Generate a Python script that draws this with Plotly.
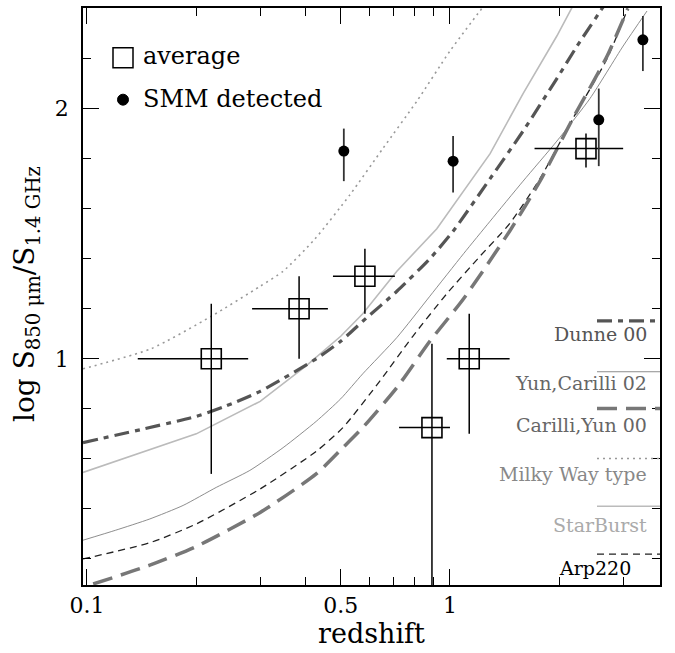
import plotly.graph_objects as go
import numpy as np

# ---------------- data ----------------
# averages (open squares)
avg_z = [0.22, 0.384, 0.583, 0.892, 1.13, 2.37]
avg_y = [1.00, 1.20, 1.33, 0.725, 1.00, 1.84]
avg_zlo = [0.138, 0.285, 0.476, 0.724, 0.98, 1.71]
avg_zhi = [0.278, 0.461, 0.705, 1.0, 1.46, 3.0]
avg_ylo = [0.54, 1.00, 1.18, -0.5, 0.70, 1.765]
avg_yhi = [1.22, 1.33, 1.44, 1.06, 1.18, 1.90]

# SMM detected (filled circles)
smm_z = [0.51, 1.02, 2.57, 3.40]
smm_y = [1.83, 1.79, 1.955, 2.275]
smm_ylo = [1.71, 1.665, 1.77, 2.15]
smm_yhi = [1.92, 1.89, 2.08, 2.37]

# model tracks
dunne_z = [0.0975, 0.2, 0.24, 0.3, 0.428, 0.5, 0.575, 0.714, 0.88, 1.02, 1.29, 1.59, 1.97, 2.24, 2.71]
dunne_y = [0.665, 0.77, 0.81, 0.87, 1.00, 1.07, 1.15, 1.27, 1.40, 1.51, 1.72, 1.91, 2.12, 2.25, 2.43]

yun_z = [0.0975, 0.12, 0.149, 0.184, 0.227, 0.281, 0.347, 0.428, 0.5, 0.575, 0.714, 0.88,
         1.09, 1.29, 1.59, 1.97, 2.43, 3.0, 3.49]
yun_y = [0.275, 0.315, 0.36, 0.414, 0.486, 0.554, 0.645, 0.75, 0.84, 0.94, 1.085, 1.25,
         1.42, 1.55, 1.71, 1.87, 2.04, 2.25, 2.39]

carilli_z = [0.104, 0.149, 0.2, 0.3, 0.428, 0.507, 0.575, 0.714, 0.88, 1.09, 1.46, 1.77, 2.18, 2.71, 3.09]
carilli_y = [0.10, 0.175, 0.25, 0.386, 0.54, 0.645, 0.725, 0.885, 1.07, 1.24, 1.51, 1.71, 1.96, 2.21, 2.40]

milky_z = [0.0975, 0.15, 0.22, 0.3, 0.347, 0.424, 0.531, 0.653, 0.811, 1.0, 1.3]
milky_y = [0.96, 1.04, 1.17, 1.29, 1.35, 1.478, 1.657, 1.84, 2.03, 2.23, 2.45]

star_z = [0.0975, 0.2, 0.3, 0.4, 0.5, 0.575, 0.714, 0.92, 1.29, 1.59, 1.97, 2.18]
star_y = [0.546, 0.70, 0.83, 0.97, 1.09, 1.18, 1.35, 1.52, 1.82, 2.06, 2.29, 2.41]

arp_z = [0.0975, 0.149, 0.2, 0.3, 0.428, 0.507, 0.64, 0.79, 0.98, 1.21, 1.46, 1.77, 2.18, 2.71, 3.09]
arp_y = [0.20, 0.265, 0.34, 0.48, 0.63, 0.725, 0.91, 1.09, 1.26, 1.41, 1.54, 1.72, 1.96, 2.20, 2.40]

x_ticks = [0.1, 0.5, 1]
x_ticklabels = ["0.1", "0.5", "1"]
x_minor = [0.2, 0.3, 0.4, 0.6, 0.7, 0.8, 0.9, 2, 3]
y_ticks = [1, 2]
y_ticklabels = ["1", "2"]
y_minor = [0.2, 0.4, 0.6, 0.8, 1.2, 1.4, 1.6, 1.8, 2.2]

FONT = "DejaVu Serif"

fig = go.Figure()

def track(z, y, color, width, dash, shape="spline"):
    line = dict(color=color, width=width, dash=dash, shape=shape)
    if shape == "spline":
        line["smoothing"] = 0.6
    fig.add_trace(go.Scatter(x=z, y=y, mode="lines", line=line, showlegend=False, hoverinfo="skip"))

track(milky_z, milky_y, "#999999", 1.6, "2px,4px")
track(star_z, star_y, "#bbbbbb", 1.6, "solid", "linear")
track(yun_z, yun_y, "#808080", 0.9, "solid")
track(arp_z, arp_y, "#222222", 1.3, "7px,5px")
track(carilli_z, carilli_y, "#777777", 3.5, "20px,9px")
track(dunne_z, dunne_y, "#555555", 3.2, "15px,6px,5px,6px")

a_z = np.array(avg_z); a_y = np.array(avg_y)
fig.add_trace(go.Scatter(
    x=avg_z, y=avg_y, mode="markers",
    marker=dict(symbol="square-open", size=20, color="black", line=dict(width=1.6, color="black")),
    error_x=dict(type="data", symmetric=False, array=list(np.array(avg_zhi) - a_z),
                 arrayminus=list(a_z - np.array(avg_zlo)), width=0, thickness=1.5, color="black"),
    error_y=dict(type="data", symmetric=False, array=list(np.array(avg_yhi) - a_y),
                 arrayminus=list(a_y - np.array(avg_ylo)), width=0, thickness=1.5, color="black"),
    showlegend=False, hoverinfo="skip"))

s_y = np.array(smm_y)
fig.add_trace(go.Scatter(
    x=smm_z, y=smm_y, mode="markers",
    marker=dict(symbol="circle", size=11, color="black"),
    error_y=dict(type="data", symmetric=False, array=list(np.array(smm_yhi) - s_y),
                 arrayminus=list(s_y - np.array(smm_ylo)), width=0, thickness=1.8, color="#333333"),
    showlegend=False, hoverinfo="skip"))

# ---------- layout ----------
L, R, T, B = 83, 15, 6, 68
W, H = 675, 653
pw, ph = W - L - R, H - T - B

def px(xp):
    return (xp - L) / pw

def py(yp):
    return (H - B - yp) / ph

shapes = []
annotations = []

# top-left legend
shapes.append(dict(type="rect", xref="paper", yref="paper", x0=px(113), x1=px(133), y0=py(66), y1=py(46),
                   line=dict(color="black", width=1.5)))
shapes.append(dict(type="circle", xref="paper", yref="paper", x0=px(117.5), x1=px(128.5), y0=py(103.5),
                   y1=py(92.5), fillcolor="black", line=dict(color="black", width=1)))
annotations.append(dict(xref="paper", yref="paper", x=px(141), y=py(54), text="average", showarrow=False,
                        xanchor="left", yanchor="middle", font=dict(family=FONT, size=24, color="black")))
annotations.append(dict(xref="paper", yref="paper", x=px(141), y=py(97), text="SMM detected", showarrow=False,
                        xanchor="left", yanchor="middle", font=dict(family=FONT, size=24, color="black")))

# right legend
leg = [
    ("Dunne 00", 320, 333, "#555555", 3.2, "15px,6px,5px,6px", "#555555"),
    ("Yun,Carilli 02", 371, 382, "#808080", 0.9, "solid", "#666666"),
    ("Carilli,Yun 00", 408, 424, "#777777", 3.5, "20px,9px", "#666666"),
    ("Milky Way type", 458, 474, "#999999", 1.6, "2px,4px", "#888888"),
    ("StarBurst", 506, 525, "#bbbbbb", 1.6, "solid", "#aaaaaa"),
    ("Arp220", 554, 568, "#222222", 1.3, "7px,5px", "#000000"),
]
for name, ly, ty, col, w, dash, tcol in leg:
    shapes.append(dict(type="line", xref="paper", yref="paper", x0=px(597), x1=px(660), y0=py(ly), y1=py(ly),
                       line=dict(color=col, width=w, dash=dash)))
    xr = 633 if name == "Arp220" else 649
    annotations.append(dict(xref="paper", yref="paper", x=px(xr), y=py(ty), text=name, showarrow=False,
                            xanchor="right", yanchor="middle", font=dict(family=FONT, size=19, color=tcol)))

# y-axis title as annotation for precise placement
annotations.append(dict(xref="paper", yref="paper", x=px(26), y=py(293), textangle=-90,
                        text="log S<sub>850 μm</sub>/S<sub>1.4 GHz</sub>", showarrow=False,
                        xanchor="center", yanchor="middle", font=dict(family=FONT, size=28, color="black")))

axis_common = dict(showline=True, linecolor="black", linewidth=1.5, mirror="ticks", ticks="inside",
                   tickcolor="black", tickwidth=1.2, showgrid=False, zeroline=False)

fig.update_layout(
    width=W, height=H,
    margin=dict(l=L, r=R, t=T, b=B),
    paper_bgcolor="white", plot_bgcolor="white",
    shapes=shapes, annotations=annotations,
    font=dict(family=FONT, color="black"),
    xaxis=dict(type="log", range=[np.log10(0.0975), np.log10(3.79)],
               tickvals=x_ticks, ticktext=x_ticklabels, ticklen=16,
               tickfont=dict(family=FONT, size=22),
               minor=dict(tickvals=x_minor, ticklen=8, ticks="inside", tickcolor="black", tickwidth=1.2),
               title=dict(text="redshift", font=dict(family=FONT, size=27), standoff=4),
               **axis_common),
    yaxis=dict(range=[0.096, 2.402], tickvals=y_ticks, ticktext=y_ticklabels, ticklen=16,
               tickfont=dict(family=FONT, size=22), ticklabelstandoff=8,
               minor=dict(tickvals=y_minor, ticklen=8, ticks="inside", tickcolor="black", tickwidth=1.2),
               **axis_common),
)

fig.write_html("out.html")
